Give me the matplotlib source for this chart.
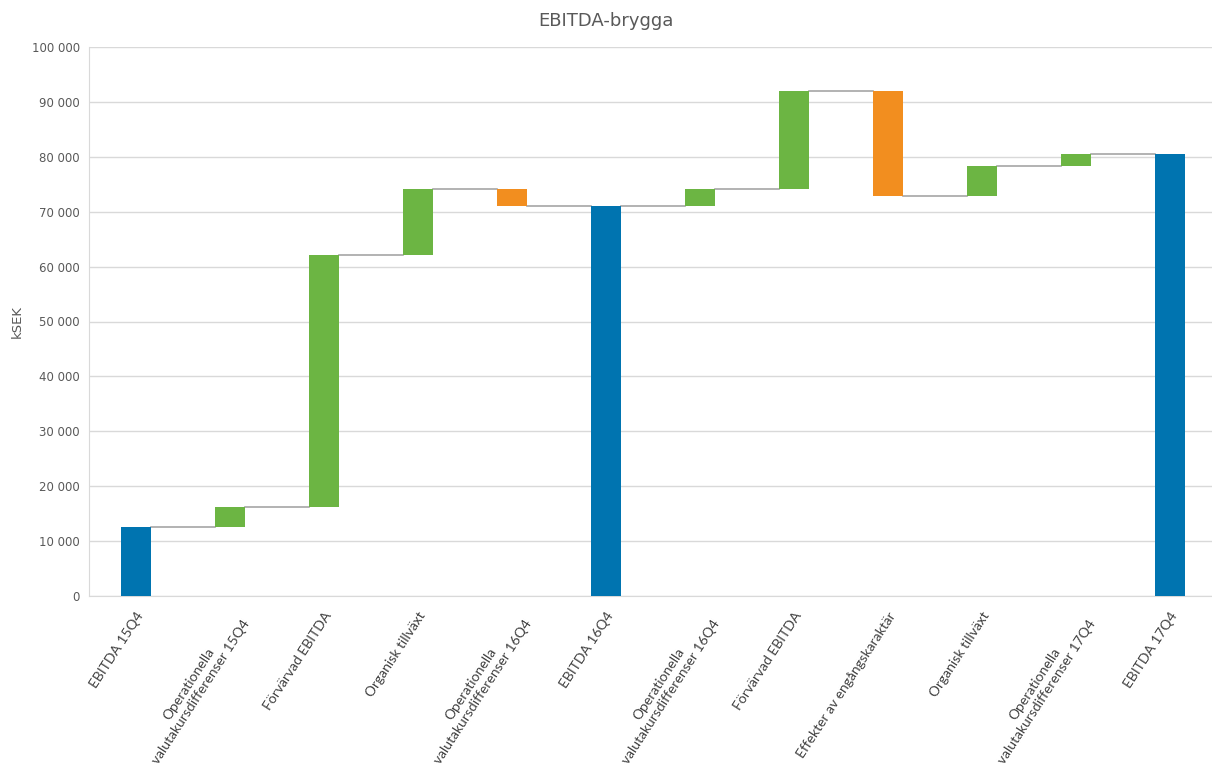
import numpy as np
import matplotlib.pyplot as plt
from matplotlib.ticker import FuncFormatter

# Bridge data (kSEK)
labels = ["EBITDA 15Q4",
          "Operationella\nvalutakursdifferenser 15Q4",
          "Förvärvad EBITDA",
          "Organisk tillväxt",
          "Operationella\nvalutakursdifferenser 16Q4",
          "EBITDA 16Q4",
          "Operationella\nvalutakursdifferenser 16Q4",
          "Förvärvad EBITDA",
          "Effekter av engångskaraktär",
          "Organisk tillväxt",
          "Operationella\nvalutakursdifferenser 17Q4",
          "EBITDA 17Q4"]
deltas = [12600, 3600, 45900, 12000, -3100, None, 3100, 17900, -19100, 5400, 2200, None]
is_total = [True, False, False, False, False, True, False, False, False, False, False, True]

blue = "#0074B0"
green = "#6CB543"
orange = "#F28E1F"

# Work out bottoms / heights
bottoms, heights, colors, levels = [], [], [], []
running = 0
for d, tot in zip(deltas, is_total):
    if tot:
        if d is not None:
            running = d
        bottoms.append(0)
        heights.append(running)
        colors.append(blue)
    else:
        new = running + d
        bottoms.append(min(running, new))
        heights.append(abs(d))
        colors.append(green if d > 0 else orange)
        running = new
    levels.append(running)

fig = plt.figure(figsize=(12.12, 7.69), dpi=100)
ax = fig.add_axes([89 / 1212, 1 - 596 / 769, 1128 / 1212, 549 / 769])

x = np.arange(len(labels))
w = 0.32
ax.bar(x, heights, bottom=bottoms, width=w, color=colors, zorder=3)

# Connector lines between bars
for i in range(len(x) - 1):
    ax.plot([x[i] + w / 2, x[i + 1] - w / 2], [levels[i], levels[i]],
            color="#A6A6A6", lw=1.2, zorder=2)

ax.set_xlim(-0.5, len(x) - 0.5)
ax.set_ylim(0, 100000)
ax.set_yticks(np.arange(0, 100001, 10000))
ax.yaxis.set_major_formatter(FuncFormatter(lambda v, p: f"{int(v):,}".replace(",", " ")))
ax.grid(axis="y", color="#D9D9D9", lw=1, zorder=0)
ax.tick_params(length=0, colors="#595959", labelsize=8.5)
ax.tick_params(axis="y", pad=6.5)
for side in ["top", "right"]:
    ax.spines[side].set_visible(False)
for side in ["left", "bottom"]:
    ax.spines[side].set_color("#D9D9D9")

ax.set_xticks(x)
ax.set_xticklabels(labels, rotation=57, ha="right", rotation_mode="anchor",
                   multialignment="center", fontsize=10, family="Lato", color="#404040")
ax.tick_params(axis="x", pad=10)

ax.set_ylabel("kSEK", fontsize=9.5, color="#595959")
ax.yaxis.set_label_coords(-0.058, 0.5)
fig.suptitle("EBITDA-brygga", y=0.985, fontsize=13, color="#595959")

fig.savefig("out.png", dpi=100)
